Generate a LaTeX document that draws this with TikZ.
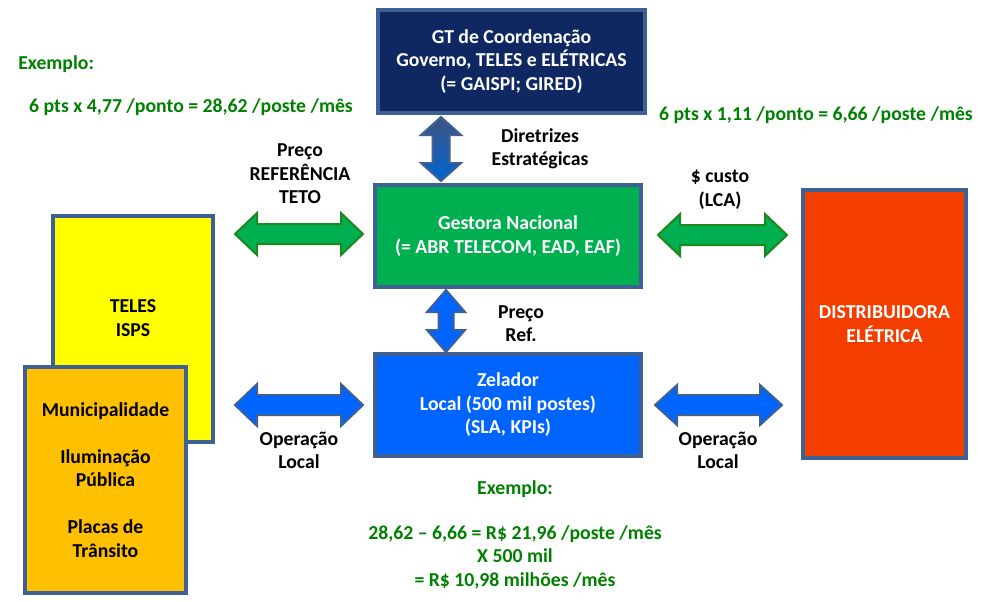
\documentclass[tikz,border=0pt]{standalone}
\usepackage{fontspec}
\setmainfont{Carlito}
\usetikzlibrary{shadows}
\definecolor{navyfill}{RGB}{16,40,98}
\definecolor{boxline}{RGB}{62,96,146}
\definecolor{gfill}{RGB}{0,176,80}
\definecolor{bfill}{RGB}{0,100,255}
\definecolor{rfill}{RGB}{243,62,0}
\definecolor{yfill}{RGB}{255,255,0}
\definecolor{ofill}{RGB}{255,192,0}
\definecolor{tgreen}{RGB}{0,128,0}
\definecolor{gline}{RGB}{30,135,30}
\newcommand{\hdarrow}[7]{% style, x1, x2, y, L, H, h
  \draw[#1] (#2,#4) -- (#2+#5,#4-#6) -- (#2+#5,#4-#7) -- (#3-#5,#4-#7) -- (#3-#5,#4-#6)
    -- (#3,#4) -- (#3-#5,#4+#6) -- (#3-#5,#4+#7) -- (#2+#5,#4+#7) -- (#2+#5,#4+#6) -- cycle;}
\newcommand{\vdarrow}[7]{% style, y1, y2, x, L, H, h
  \draw[#1] (#4,#2) -- (#4+#6,#2+#5) -- (#4+#7,#2+#5) -- (#4+#7,#3-#5) -- (#4+#6,#3-#5)
    -- (#4,#3) -- (#4-#6,#3-#5) -- (#4-#7,#3-#5) -- (#4-#7,#2+#5) -- (#4-#6,#2+#5) -- cycle;}
\begin{document}
\begin{tikzpicture}[x=0.75pt,y=-0.75pt,
  every node/.style={font=\fontsize{14.8}{17.6}\selectfont\bfseries, align=center, inner sep=0pt},
  box/.style={draw=boxline, line width=2.4pt, rectangle,
     drop shadow={shadow xshift=1.5pt, shadow yshift=-1.5pt, opacity=0.25}},
  greentxt/.style={text=tgreen},
  garrow/.style={fill=gfill, draw=gline, line width=1.5pt, line join=miter},
  barrow/.style={fill=bfill, draw=boxline, line width=1.5pt, line join=miter}]
\useasboundingbox (0,0) rectangle (998,601);
% boxes
\node[box, fill=navyfill, text=white, minimum width=200.25pt, minimum height=77.25pt] (gt) at (511.5,61.5)
  {GT de Coordenação\\Governo, TELES e ELÉTRICAS\\(= GAISPI; GIRED)};
\node[box, fill=gfill, text=white, minimum width=199.5pt, minimum height=76.5pt] (gest) at (508,236)
  {Gestora Nacional\\(= ABR TELECOM, EAD, EAF)};
\node[box, fill=bfill, text=white, minimum width=199.5pt, minimum height=76.5pt] (zel) at (508,405)
  {Zelador\\Local (500 mil postes)\\(SLA, KPIs)};
\node[box, fill=rfill, minimum width=122.25pt, minimum height=201pt] (dist) at (884.5,324) {};
\node[text=white] (distt) at (884.5,324) {DISTRIBUIDORA\\ELÉTRICA};
\node[box, fill=yfill, minimum width=120pt, minimum height=169.5pt] (teles) at (133,329) {};
\node (telest) at (133,318) {TELES\\ISPS};
\node[box, fill=ofill, minimum width=120.75pt, minimum height=169.5pt] (muni) at (105.5,480)
  {Municipalidade\\[17.6pt]Iluminação\\Pública\\[17.6pt]Placas de\\Trânsito};
% arrows
\shade[top color=navyfill!80!white, bottom color={rgb,255:red,0;green,100;blue,210}, draw=boxline, line width=1.5pt]
  (441,117) -- (461,135) -- (449.5,135) -- (449.5,163) -- (461,163) -- (441,181) -- (421,163) -- (432.5,163)
  -- (432.5,135) -- (421,135) -- cycle;
\vdarrow{barrow}{290}{352}{446}{22}{19}{7.5}
\hdarrow{garrow}{235}{363}{234}{22}{21}{10}
\hdarrow{garrow}{658}{787}{235}{22}{21}{10}
\hdarrow{barrow}{235}{363}{405}{22}{21}{10}
\hdarrow{barrow}{655}{782}{405}{22}{20}{10}
% labels
\node (l1) at (300,174) {Preço\\REFERÊNCIA\\TETO};
\node (l2) at (540,148.5) {Diretrizes\\Estratégicas};
\node (l3) at (720,189.5) {\$ custo\\(LCA)};
\node (l4) at (521,323.5) {Preço\\Ref.};
\node (l5) at (299,450.5) {Operação\\Local};
\node (l6) at (718,450.5) {Operação\\Local};
% green examples
\node[greentxt, anchor=west] (e1) at (18,64) {Exemplo:};
\node[greentxt] (e2) at (191,107) {6 pts x 4,77 /ponto = 28,62 /poste /mês};
\node[greentxt] (e3) at (816,115) {6 pts x 1,11 /ponto = 6,66 /poste /mês};
\node[greentxt] (e4) at (515,489) {Exemplo:};
\node[greentxt] (e5) at (515,557) {28,62 – 6,66 = R\$ 21,96 /poste /mês\\X 500 mil\\= R\$ 10,98 milhões /mês};
\end{tikzpicture}
\end{document}
